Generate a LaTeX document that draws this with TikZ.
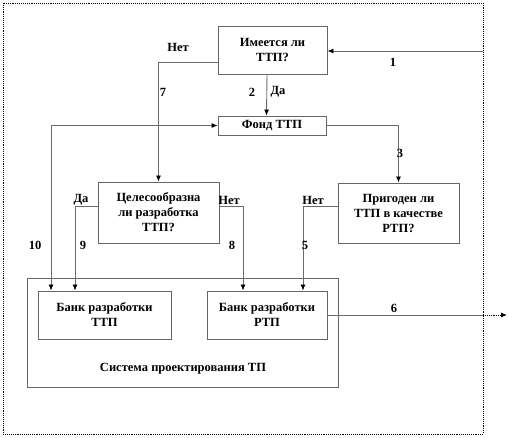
\documentclass[tikz,border=0pt]{standalone}
\usepackage{fontspec}
\setmainfont{Liberation Serif}
\usetikzlibrary{arrows.meta}
\begin{document}
\begin{tikzpicture}[x=1pt,y=-1pt,
  box/.style={draw=black!60, line width=0.9pt, rectangle, inner sep=1pt, align=center, font=\bfseries\fontsize{12.5}{15}\selectfont},
  lbl/.style={font=\bfseries\fontsize{12.5}{14}\selectfont, inner sep=0pt},
  conn/.style={draw=black!58, line width=0.9pt},
  arr/.style={conn, -{Latex[length=6pt,width=5pt,color=black]}},
  arrb/.style={conn, {Latex[length=6pt,width=5pt,color=black]}-{Latex[length=6pt,width=5pt,color=black]}}]
\useasboundingbox (0,0) rectangle (509,438);
% outer dotted frame
\draw[densely dotted, line width=0.9pt] (3,3) rectangle (483,434);
% nodes
\node[box, minimum width=109pt, minimum height=48pt] (q1) at (272.5,50) {Имеется ли\\ТТП?};
\node[box, minimum width=108pt, minimum height=19pt] (fond) at (272,125.5) {Фонд ТТП};
\node[box, minimum width=121pt, minimum height=61pt] (q2) at (158.5,212.5) {Целесообразна\\ли разработка\\ТТП?};
\node[box, minimum width=121pt, minimum height=60pt] (q3) at (398.5,213) {Пригоден ли\\ТТП в качестве\\РТП?};
\node[box, minimum width=311pt, minimum height=109pt] (sys) at (182.5,332.5) {};
\node[box, minimum width=133pt, minimum height=48pt] (b1) at (104.5,315) {Банк разработки\\ТТП};
\node[box, minimum width=120pt, minimum height=48pt] (b2) at (267,315) {Банк разработки\\РТП};
\node[lbl] (systxt) at (183,369) {Система проектирования ТП};
\coordinate (in1) at (483,51);
\coordinate (fr6) at (483,315);
\coordinate (out6) at (507,315);
% connectors
\draw[arr] (in1) -- (q1.east |- in1);
\draw[arr] ([xshift=-5.5pt]q1.south) -- ([xshift=-5.5pt]fond.north);
\draw[arr] ([yshift=-12pt]q1.west) -| (q2.north);
\draw[arrb] (fond.west) -| ([xshift=-53.5pt]b1.north);
\draw[arr] (fond.east) -| (q3.north);
\draw[arr] ([yshift=6.5pt]q2.west) -| ([xshift=-29.5pt]b1.north);
\draw[arr] ([yshift=6.5pt]q2.east) -| ([xshift=-24pt]b2.north);
\draw[arr] ([yshift=7pt]q3.west) -| ([xshift=36pt]b2.north);
\draw[conn] (b2.east) -- (fr6);
\draw[densely dotted, line width=0.9pt, -{Latex[length=6pt,width=5pt]}] (fr6) -- (out6);
% labels
\node[lbl] (l1) at (393,62) {1};
\node[lbl] (l2) at (252,92) {2};
\node[lbl] (lda1) at (278,92) {Да};
\node[lbl] (lnet1) at (178,47) {Нет};
\node[lbl] (l7) at (163,92) {7};
\node[lbl] (l3) at (400,153) {3};
\node[lbl] (lda2) at (81,200) {Да};
\node[lbl] (lnet2) at (229,200) {Нет};
\node[lbl] (lnet3) at (313,200) {Нет};
\node[lbl] (l10) at (35,245) {10};
\node[lbl] (l9) at (83,245) {9};
\node[lbl] (l8) at (232,245) {8};
\node[lbl] (l5) at (305,245) {5};
\node[lbl] (l6) at (394,308) {6};
\end{tikzpicture}
\end{document}
